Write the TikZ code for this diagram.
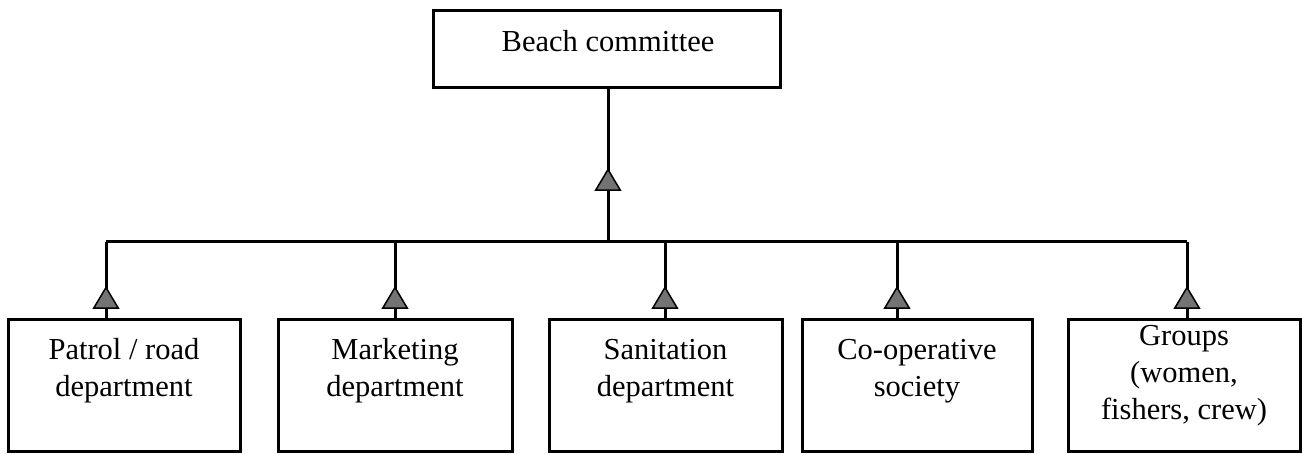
\documentclass[tikz,border=0pt]{standalone}
\usepackage{fontspec}
\setmainfont{Liberation Serif}
\usetikzlibrary{arrows.meta,decorations.markings}
\tikzset{
  box/.style={draw=black, line width=3pt, rectangle, inner sep=0pt, fill=white},
  botbox/.style={box, minimum width=232pt, minimum height=131pt},
  lbl/.style={align=center, inner sep=0pt, font=\fontsize{30.5}{37}\selectfont},
  conn/.style={draw=black, line width=3pt},
  midarrow/.style={postaction={decorate}, decoration={markings,
    mark=at position #1 with {\arrow{Triangle[width=27pt,length=23pt,fill=black!55,line width=1.5pt]}}}}
}
\begin{document}
\begin{tikzpicture}[x=1pt,y=-1pt]
\useasboundingbox (0,0) rectangle (1302,454);
% top box
\node[box, minimum width=347pt, minimum height=77pt] (top) at (606.5,49.5) {};
\node[lbl] (ttop) at (608,41) {Beach committee};
% bottom boxes
\node[botbox] (b1) at (124,385.5) {};
\node[botbox, minimum width=234pt] (b2) at (395,385.5) {};
\node[botbox, minimum width=233pt] (b3) at (665.5,385.5) {};
\node[botbox, minimum width=230pt] (b4) at (917,385.5) {};
\node[botbox] (b5) at (1184,385.5) {};
\node[lbl] (t1) at (124,371) {Patrol / road\\department};
\node[lbl] (t2) at (395,371) {Marketing\\department};
\node[lbl] (t3) at (665.5,371) {Sanitation\\department};
\node[lbl] (t4) at (917,371) {Co-operative\\society};
\node[lbl] (t5) at (1184,376) {Groups\\(women,\\fishers, crew)};
% junction points
\coordinate (j0) at (608,242);
\coordinate (j1) at (106,242);
\coordinate (j2) at (395,242);
\coordinate (j3) at (665,242);
\coordinate (j4) at (897,242);
\coordinate (j5) at (1187,242);
\coordinate (s0) at (top.south -| j0);
\coordinate (n1) at (b1.north -| j1);
\coordinate (n2) at (b2.north -| j2);
\coordinate (n3) at (b3.north -| j3);
\coordinate (n4) at (b4.north -| j4);
\coordinate (n5) at (b5.north -| j5);
% bar
\draw[conn] (j1) -- (j5);
% connectors
\draw[conn, midarrow=74pt] (j0) -- (s0);
\draw[conn, midarrow=32.5pt] (n1) -- (j1);
\draw[conn, midarrow=32.5pt] (n2) -- (j2);
\draw[conn, midarrow=32.5pt] (n3) -- (j3);
\draw[conn, midarrow=32.5pt] (n4) -- (j4);
\draw[conn, midarrow=32.5pt] (n5) -- (j5);
\end{tikzpicture}
\end{document}
